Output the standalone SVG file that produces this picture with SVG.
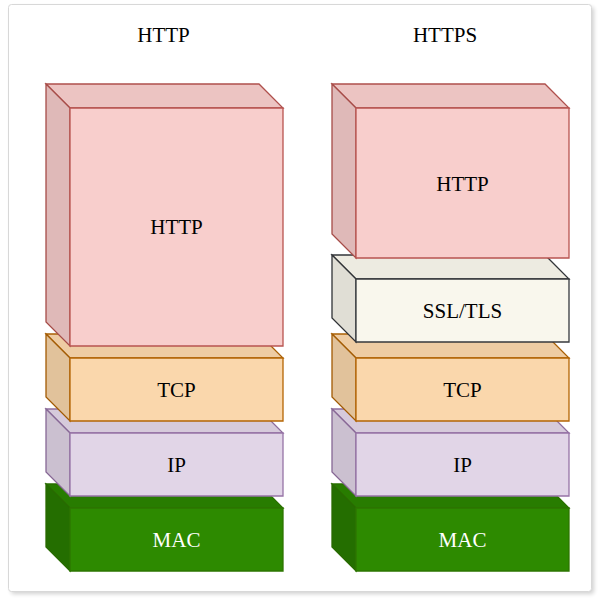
<svg xmlns="http://www.w3.org/2000/svg" width="598" height="601" viewBox="0 0 598 601">
<style>
text{font-family:"Liberation Serif","Times New Roman",serif;font-size:21px;text-anchor:middle;fill:#000}
.pink path{fill:#f8cecc;stroke:#b85450;stroke-width:1.3}
.orange path{fill:#fad7ac;stroke:#b46504;stroke-width:1.3}
.purple path{fill:#e1d5e7;stroke:#9673a6;stroke-width:1.3}
.gray path{fill:#f9f7ed;stroke:#36393d;stroke-width:1.3}
.green path{fill:#2d8a00;stroke:#2d7600;stroke-width:1.3}
.green text{fill:#fff}
path.top{filter:brightness(0.95)}
path.side{filter:brightness(0.9)}
</style>
<defs>
<filter id="sh" x="-5%" y="-5%" width="110%" height="110%">
<feGaussianBlur stdDeviation="2"/>
</filter>
</defs>
<rect width="598" height="601" fill="#fff"/>
<rect x="11" y="7" width="583" height="587" rx="3" fill="#000" opacity="0.18" filter="url(#sh)"/>
<rect x="8.5" y="4.5" width="583" height="587" rx="3" fill="#fff" stroke="#d8d8d8" stroke-width="1"/>
<g id="label-http"><text x="163.5" y="42">HTTP</text></g>
<g id="label-https"><text x="445" y="42">HTTPS</text></g>

<g id="left-mac" class="green">
<path class="top" d="M46,484 H259 L283,508 H70 Z" style="fill:#2a8200"/>
<path class="side" d="M46,484 L70,508 V571 L46,547 Z" style="fill:#287a00"/>
<path d="M70,508 H283 V571 H70 Z"/>
<text x="176.5" y="547">MAC</text>
</g>
<g id="left-ip" class="purple">
<path class="top" d="M46,409 H259 L283,433 H70 Z"/>
<path class="side" d="M46,409 L70,433 V496 L46,472 Z"/>
<path d="M70,433 H283 V496 H70 Z"/>
<text x="176.5" y="472">IP</text>
</g>
<g id="left-tcp" class="orange">
<path class="top" d="M46,334 H259 L283,358 H70 Z"/>
<path class="side" d="M46,334 L70,358 V421 L46,397 Z"/>
<path d="M70,358 H283 V421 H70 Z"/>
<text x="176.5" y="397">TCP</text>
</g>
<g id="left-http" class="pink">
<path class="top" d="M46,84 H259 L283,108 H70 Z"/>
<path class="side" d="M46,84 L70,108 V346 L46,322 Z"/>
<path d="M70,108 H283 V346 H70 Z"/>
<text x="176.5" y="234">HTTP</text>
</g>

<g id="right-mac" class="green">
<path class="top" d="M332,484 H545 L569,508 H356 Z" style="fill:#2a8200"/>
<path class="side" d="M332,484 L356,508 V571 L332,547 Z" style="fill:#287a00"/>
<path d="M356,508 H569 V571 H356 Z"/>
<text x="462.5" y="547">MAC</text>
</g>
<g id="right-ip" class="purple">
<path class="top" d="M332,409 H545 L569,433 H356 Z"/>
<path class="side" d="M332,409 L356,433 V496 L332,472 Z"/>
<path d="M356,433 H569 V496 H356 Z"/>
<text x="462.5" y="472">IP</text>
</g>
<g id="right-tcp" class="orange">
<path class="top" d="M332,334 H545 L569,358 H356 Z"/>
<path class="side" d="M332,334 L356,358 V421 L332,397 Z"/>
<path d="M356,358 H569 V421 H356 Z"/>
<text x="462.5" y="397">TCP</text>
</g>
<g id="right-ssl" class="gray">
<path class="top" d="M332,255 H545 L569,279 H356 Z"/>
<path class="side" d="M332,255 L356,279 V342 L332,318 Z"/>
<path d="M356,279 H569 V342 H356 Z"/>
<text x="462.5" y="318">SSL/TLS</text>
</g>
<g id="right-http" class="pink">
<path class="top" d="M332,84 H545 L569,108 H356 Z"/>
<path class="side" d="M332,84 L356,108 V258 L332,234 Z"/>
<path d="M356,108 H569 V258 H356 Z"/>
<text x="462.5" y="190.5">HTTP</text>
</g>
<g id="connectors"/>
</svg>
